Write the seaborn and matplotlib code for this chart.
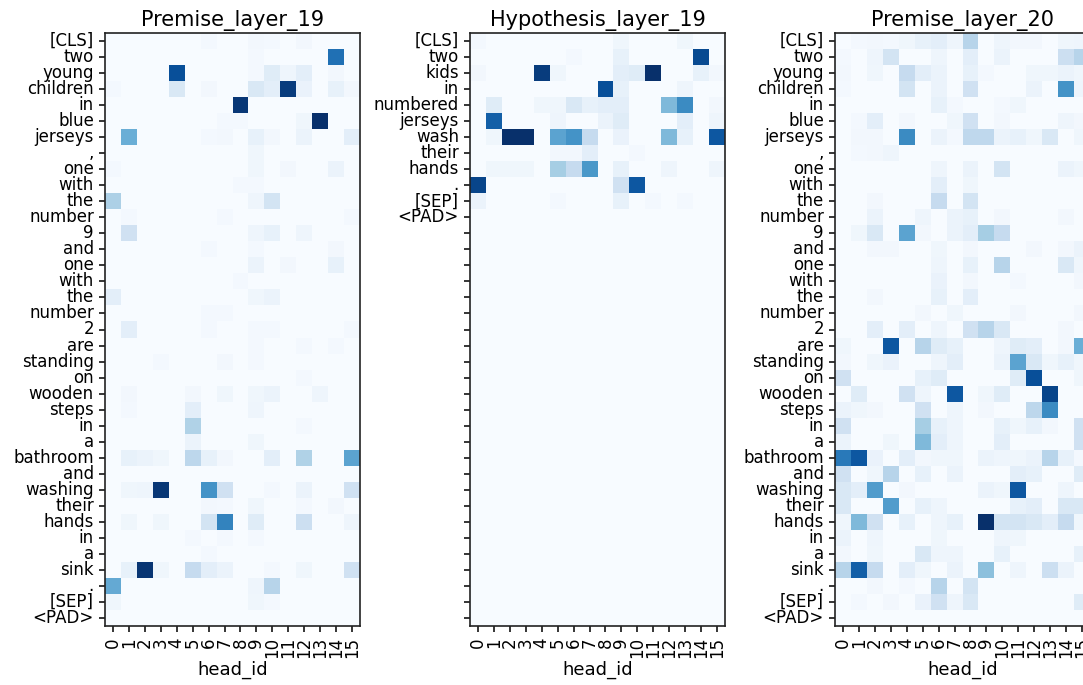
import numpy as np
import pandas as pd
import matplotlib
matplotlib.use("Agg")
import matplotlib.pyplot as plt
import seaborn as sns

# token labels for the rows
premise_tokens = ["[CLS]", "two", "young", "children", "in", "blue", "jerseys", ",",
                  "one", "with", "the", "number", "9", "and", "one", "with", "the",
                  "number", "2", "are", "standing", "on", "wooden", "steps", "in", "a",
                  "bathroom", "and", "washing", "their", "hands", "in", "a", "sink", ".",
                  "[SEP]", "<PAD>"]
hypothesis_tokens = ["[CLS]", "two", "kids", "in", "numbered", "jerseys", "wash", "their",
                     "hands", ".", "[SEP]", "<PAD>"] + [""] * 25
head_ids = list(range(16))

# attention weights, rows = tokens, columns = heads 0..15
premise_19 = [
    [0, 0, 0, 0, 0, 0, .02, 0, 0, .03, .02, 0, .03, 0, 0, 0],
    [0, 0, 0, 0, 0, 0, 0, 0, 0, .02, 0, 0, 0, 0, .75, 0],
    [0, 0, 0, 0, .88, 0, 0, 0, 0, .02, .12, .05, .10, 0, .03, 0],
    [.02, 0, 0, 0, .15, 0, .03, 0, 0, .15, .10, .95, .07, 0, .08, .03],
    [0, 0, 0, 0, 0, 0, 0, 0, .97, 0, 0, 0, 0, 0, 0, 0],
    [0, 0, 0, 0, 0, 0, 0, .02, .02, 0, 0, 0, .04, 1.0, 0, 0],
    [0, .50, 0, 0, 0, 0, .02, .03, 0, .08, .03, 0, .06, 0, 0, .10],
    [0, 0, 0, 0, 0, 0, 0, 0, 0, .04, 0, 0, 0, 0, 0, 0],
    [.02, 0, 0, 0, 0, 0, 0, 0, 0, .04, 0, .03, 0, 0, .06, 0],
    [0, 0, 0, 0, 0, 0, 0, 0, .02, .02, 0, 0, 0, 0, 0, 0],
    [.33, 0, 0, 0, 0, 0, 0, 0, 0, .05, .18, 0, 0, 0, 0, 0],
    [0, .02, 0, 0, 0, 0, 0, .02, 0, 0, 0, 0, 0, 0, 0, .02],
    [0, .20, 0, 0, 0, 0, 0, 0, 0, .05, .08, 0, .05, 0, 0, 0],
    [0, 0, 0, 0, 0, 0, .02, 0, 0, .02, 0, 0, 0, 0, .03, 0],
    [0, 0, 0, 0, 0, 0, 0, 0, 0, .06, 0, .03, 0, 0, .08, 0],
    [0, 0, 0, 0, 0, 0, 0, 0, .02, 0, 0, 0, 0, 0, 0, 0],
    [.10, 0, 0, 0, 0, 0, 0, 0, 0, .04, .06, 0, 0, 0, 0, 0],
    [0, 0, 0, 0, 0, 0, .02, .02, 0, 0, 0, 0, 0, 0, 0, 0],
    [0, .10, 0, 0, 0, 0, .02, 0, 0, .02, .02, 0, 0, 0, 0, .02],
    [0, 0, 0, 0, 0, 0, 0, 0, 0, .02, 0, 0, .02, 0, .02, 0],
    [0, 0, 0, .02, 0, 0, 0, .03, 0, .02, 0, 0, 0, 0, 0, 0],
    [0, 0, 0, 0, 0, 0, 0, 0, 0, 0, 0, 0, .02, 0, 0, 0],
    [0, .03, 0, 0, 0, .03, 0, .04, 0, .04, .06, 0, 0, .05, 0, 0],
    [0, .02, 0, 0, 0, .10, 0, 0, 0, .05, 0, 0, 0, 0, 0, 0],
    [0, 0, 0, 0, 0, .32, 0, 0, 0, 0, 0, 0, .02, 0, 0, 0],
    [0, 0, 0, 0, 0, .06, 0, 0, 0, .04, 0, 0, 0, 0, 0, 0],
    [0, .08, .06, .04, 0, .28, .08, .03, 0, 0, .10, 0, .32, 0, 0, .55],
    [0, 0, 0, 0, 0, 0, 0, 0, 0, 0, 0, 0, 0, 0, 0, 0],
    [0, .04, .05, .97, 0, 0, .62, .20, 0, 0, .02, 0, .06, 0, 0, .20],
    [0, 0, 0, 0, 0, 0, .03, .02, 0, .04, 0, 0, .02, 0, .03, 0],
    [0, .04, 0, .04, 0, 0, .18, .68, 0, .12, 0, 0, .22, 0, 0, .05],
    [0, 0, 0, 0, 0, .02, 0, .02, 0, .02, 0, 0, 0, 0, 0, 0],
    [0, 0, 0, 0, 0, 0, .02, 0, 0, 0, 0, 0, 0, 0, 0, 0],
    [0, .08, .98, .04, 0, .25, .10, .06, 0, 0, .02, 0, .04, 0, 0, .20],
    [.52, 0, 0, 0, 0, 0, 0, 0, 0, .05, .30, 0, 0, 0, 0, 0],
    [.04, 0, 0, 0, 0, 0, 0, 0, 0, .04, .02, 0, 0, 0, 0, 0],
    [0, 0, 0, 0, 0, 0, 0, 0, 0, 0, 0, 0, 0, 0, 0, 0],
]

hypothesis_19 = [
    [.02, 0, 0, 0, 0, 0, 0, 0, 0, .04, 0, 0, 0, .04, 0, 0],
    [0, 0, 0, 0, 0, 0, .02, 0, 0, .08, 0, 0, 0, 0, .90, 0],
    [.03, 0, 0, 0, .95, .04, 0, 0, 0, .10, .12, 1.0, 0, 0, .08, .03],
    [0, 0, 0, 0, 0, 0, 0, 0, .88, .08, 0, 0, 0, .05, 0, 0],
    [0, .12, 0, 0, .04, .04, .15, .08, .10, .10, 0, 0, .45, .65, 0, .03],
    [0, .82, 0, 0, 0, .05, 0, 0, .06, .12, 0, 0, 0, .10, 0, .05],
    [0, .04, 1.0, 1.0, 0, .55, .62, .25, 0, .07, 0, 0, .45, .08, 0, .85],
    [0, 0, 0, 0, 0, .03, .03, .10, 0, 0, .02, 0, 0, 0, 0, 0],
    [0, .04, .04, .04, 0, .35, .25, .60, 0, .08, 0, 0, .05, 0, 0, .05],
    [.92, 0, 0, 0, 0, 0, 0, 0, 0, .20, .85, 0, 0, 0, 0, 0],
    [.06, 0, 0, 0, 0, .02, 0, 0, 0, .08, 0, .02, 0, .02, 0, 0],
] + [[0] * 16 for _ in range(26)]

premise_20 = [
    [0, .02, .03, .02, .04, .08, .10, .05, .30, 0, .05, .03, .03, 0, .04, .05],
    [.02, 0, .05, .18, 0, 0, .05, 0, .10, 0, .06, 0, 0, 0, .22, .30],
    [.03, 0, .04, 0, .25, .10, .06, 0, .08, .02, 0, 0, .04, .04, .06, .04],
    [.02, 0, 0, 0, .18, 0, .06, 0, .20, 0, 0, 0, .06, 0, .62, .05],
    [0, 0, 0, 0, 0, 0, .08, .02, 0, 0, .02, .04, 0, 0, 0, 0],
    [0, .02, .10, 0, .03, 0, 0, .04, .20, 0, .03, 0, 0, 0, .05, .03],
    [0, .03, .03, 0, .65, 0, .06, .02, .27, .27, .06, .08, .04, .15, 0, .04],
    [0, .02, .03, .05, 0, 0, 0, 0, 0, 0, 0, 0, 0, 0, 0, 0],
    [0, 0, 0, 0, 0, 0, .05, 0, .06, 0, .18, 0, 0, 0, .06, .04],
    [0, 0, 0, 0, 0, 0, .10, 0, .04, 0, 0, 0, 0, 0, 0, 0],
    [0, 0, .03, 0, 0, 0, .25, 0, .18, 0, 0, 0, 0, 0, 0, 0],
    [0, 0, .06, 0, 0, .05, 0, .06, .08, 0, .03, 0, 0, 0, .03, 0],
    [0, .04, .15, 0, .55, .03, 0, .06, .10, .35, .25, 0, 0, 0, 0, 0],
    [0, 0, .03, .03, 0, 0, .04, 0, .03, 0, 0, 0, .03, 0, .03, .06],
    [0, 0, 0, 0, 0, 0, .05, 0, .08, 0, .30, 0, 0, 0, .15, .04],
    [0, 0, 0, 0, 0, 0, .07, 0, .03, 0, 0, .02, 0, 0, 0, .03],
    [0, 0, .03, 0, 0, 0, .08, 0, .10, 0, 0, 0, 0, 0, 0, 0],
    [0, 0, 0, 0, 0, .03, 0, .04, 0, 0, 0, .03, 0, 0, 0, .03],
    [0, 0, .10, 0, .10, 0, .05, 0, .20, .30, .15, 0, 0, 0, .03, 0],
    [.04, 0, 0, .85, 0, .30, .12, .08, 0, 0, .05, .12, .10, 0, .03, .50],
    [.03, 0, .04, .07, 0, 0, .05, .10, 0, 0, .06, .55, .15, .04, .08, .04],
    [.20, 0, 0, 0, 0, .08, .12, 0, 0, 0, 0, .12, .88, 0, 0, .04],
    [0, .12, 0, 0, .20, .05, 0, .85, 0, .04, .12, 0, 0, .92, 0, 0],
    [.06, .04, .03, 0, 0, .20, 0, .05, 0, .03, 0, 0, .28, .65, 0, 0],
    [.20, 0, 0, 0, 0, .35, .08, .05, 0, 0, .08, .04, .08, .03, 0, .20],
    [.06, 0, 0, .04, 0, .45, .10, .05, 0, 0, .10, 0, 0, 0, 0, .20],
    [.72, .85, .07, 0, .10, .03, .04, .04, 0, .06, .05, .04, .06, .30, .08, .02],
    [.20, 0, .04, .30, 0, .08, 0, .06, 0, 0, 0, .10, .08, 0, 0, .12],
    [.15, .10, .58, 0, .03, 0, 0, 0, 0, .06, .04, .85, 0, 0, .05, 0],
    [.15, 0, 0, .58, 0, .08, .05, 0, 0, 0, 0, .08, .10, 0, .15, .15],
    [.04, .45, .20, 0, .08, 0, .05, .08, 0, 1.0, .18, .18, .15, .10, .25, .04],
    [.06, 0, .05, 0, 0, 0, .04, 0, 0, 0, .05, .04, 0, 0, 0, 0],
    [.03, 0, .04, 0, 0, .15, .05, .05, 0, 0, .08, 0, 0, 0, 0, .08],
    [.30, .82, .25, 0, .10, .04, 0, .06, 0, .42, 0, .05, 0, .22, .06, 0],
    [0, 0, .03, 0, .02, 0, .30, 0, .18, 0, 0, 0, 0, 0, 0, 0],
    [0, .02, 0, .03, 0, .07, .20, .05, .15, 0, 0, 0, 0, 0, 0, .12],
    [0, 0, 0, 0, 0, 0, 0, 0, 0, 0, 0, 0, 0, 0, 0, 0],
]

titles = ["Premise_layer_19", "Hypothesis_layer_19", "Premise_layer_20"]
matrices = [premise_19, hypothesis_19, premise_20]
row_labels = [premise_tokens, hypothesis_tokens, premise_tokens]

fig = plt.figure(figsize=(10.83, 6.85), dpi=100)
lefts = [105 / 1083, 470 / 1083, 835 / 1083]
w = 255 / 1083
b = 1 - 626 / 685
h = 593 / 685

for i in range(3):
    ax = fig.add_axes([lefts[i], b, w, h])
    df = pd.DataFrame(matrices[i], index=row_labels[i], columns=head_ids)
    sns.heatmap(df, cmap="Blues", cbar=False, vmin=0, vmax=1, ax=ax,
                xticklabels=head_ids, yticklabels=row_labels[i])
    for sp in ax.spines.values():
        sp.set_visible(True)
        sp.set_linewidth(1.2)
        sp.set_color("#222222")
    ax.set_title(titles[i], fontsize=15, pad=5)
    ax.set_xlabel("head_id", fontsize=13, labelpad=2)
    ax.set_ylabel("")
    ax.tick_params(axis="both", labelsize=12, length=4.5, width=1.1)
    plt.setp(ax.get_xticklabels(), rotation=90)
    plt.setp(ax.get_yticklabels(), rotation=0)

fig.savefig("out.png", dpi=100)
